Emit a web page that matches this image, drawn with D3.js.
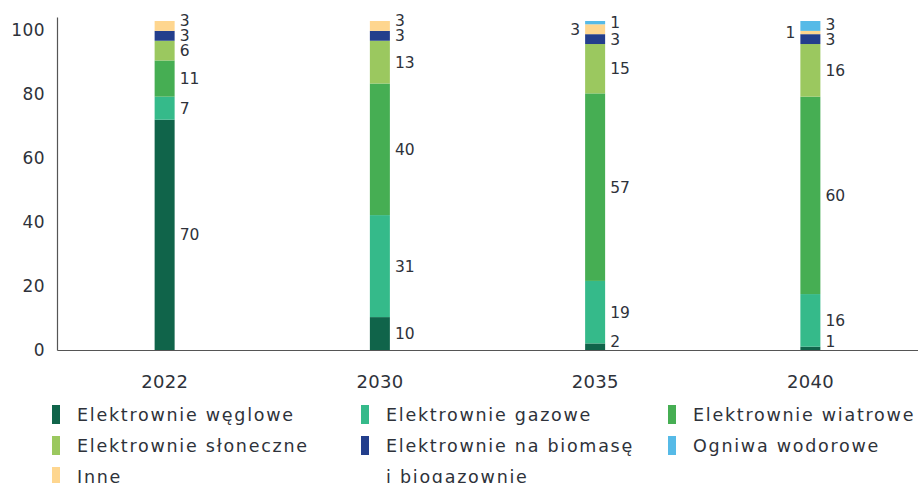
<!DOCTYPE html>
<html>
<head>
<meta charset="utf-8">
<script src="https://cdn.jsdelivr.net/npm/d3@7"></script>
<style>
  body { margin: 0; background: #fff; }
  svg text { font-family: 'DejaVu Sans', sans-serif; fill: #2e323a; }
</style>
</head>
<body>
<div id="vis"></div>
<script>
// data
var years = ['2022', '2030', '2035', '2040'];
var seriesKeys = ['coal', 'gas', 'wind', 'solar', 'biomass', 'other', 'hydrogen'];
var coal     = [70, 10, 2, 1];
var gas      = [7, 31, 19, 16];
var wind     = [11, 40, 57, 60];
var solar    = [6, 13, 15, 16];
var biomass  = [3, 3, 3, 3];
var other    = [3, 3, 3, 1];
var hydrogen = [0, 0, 1, 3];
var seriesNames = {
  coal: 'Elektrownie węglowe',
  gas: 'Elektrownie gazowe',
  wind: 'Elektrownie wiatrowe',
  solar: 'Elektrownie słoneczne',
  biomass: 'Elektrownie na biomasę\ni biogazownie',
  hydrogen: 'Ogniwa wodorowe',
  other: 'Inne'
};
var legendOrder = ['coal', 'gas', 'wind', 'solar', 'biomass', 'hydrogen', 'other'];
var yTicks = [0, 20, 40, 60, 80, 100];

var colors = {
  coal: '#10644a',
  gas: '#35ba8a',
  wind: '#46ae53',
  solar: '#9bc85f',
  biomass: '#233e8c',
  other: '#fed68f',
  hydrogen: '#56bae7'
};

var width = 918, height = 483;
var values = { coal: coal, gas: gas, wind: wind, solar: solar, biomass: biomass, other: other, hydrogen: hydrogen };

var rows = years.map(function (y, i) {
  var r = { year: y };
  seriesKeys.forEach(function (k) { r[k] = values[k][i]; });
  return r;
});

var svg = d3.select('#vis').append('svg')
  .attr('width', width)
  .attr('height', height);

var x = d3.scaleBand().domain(years).range([57, 918]);
var y = d3.scaleLinear().domain([0, 100]).range([350, 21]);
// tick labels in the original sit on a slightly tighter grid than the bars
var yAxisScale = d3.scaleLinear().domain([0, 104]).range([350, 17]);
var barW = 20;

var stack = d3.stack().keys(seriesKeys);
var layers = stack(rows);

svg.append('g')
  .selectAll('g')
  .data(layers)
  .join('g')
  .attr('fill', function (d) { return colors[d.key]; })
  .selectAll('rect')
  .data(function (d) { return d; })
  .join('rect')
  .attr('x', function (d) { return x(d.data.year) + x.bandwidth() / 2 - barW / 2; })
  .attr('y', function (d) { return y(d[1]); })
  .attr('width', barW)
  .attr('height', function (d) { return y(d[0]) - y(d[1]); });

// axes
var yAxis = svg.append('g')
  .attr('transform', 'translate(57,0)')
  .call(d3.axisLeft(yAxisScale).tickValues(yTicks).tickSize(0).tickPadding(12));
yAxis.select('.domain').attr('stroke', '#555').attr('stroke-width', 1.2);
yAxis.selectAll('text').style('font-size', '17px').style('letter-spacing', '0.4px');

var xAxis = svg.append('g')
  .attr('transform', 'translate(0,350)')
  .call(d3.axisBottom(x).tickSize(0).tickPadding(25));
xAxis.select('.domain').attr('stroke', '#555').attr('stroke-width', 1.2);
xAxis.selectAll('text').style('font-size', '18px').style('letter-spacing', '0.3px');

// value labels, nudged so that thin segments do not collide
var labelGap = 15;
years.forEach(function (yr, i) {
  var cx = x(yr) + x.bandwidth() / 2;
  var right = [], left = [];
  layers.forEach(function (layer) {
    var d = layer[i];
    var v = d[1] - d[0];
    if (v <= 0) return;
    var item = { v: v, y: (y(d[0]) + y(d[1])) / 2 };
    if (layer.key === 'other' && hydrogen[i] > 0) left.push(item);
    else right.push(item);
  });
  var prev = null;
  right.forEach(function (it) {
    it.y = Math.min(it.y, 341);
    if (prev !== null) it.y = Math.min(it.y, prev - labelGap);
    prev = it.y;
  });
  svg.selectAll(null)
    .data(right)
    .enter().append('text')
    .attr('x', cx + barW / 2 + 5)
    .attr('y', function (d) { return d.y; })
    .attr('dy', '0.36em')
    .style('font-size', '15.5px')
    .text(function (d) { return d.v; });
  svg.selectAll(null)
    .data(left)
    .enter().append('text')
    .attr('x', cx - barW / 2 - 5)
    .attr('y', function (d) { return d.y; })
    .attr('dy', '0.36em')
    .attr('text-anchor', 'end')
    .style('font-size', '15.5px')
    .text(function (d) { return d.v; });
});

// legend
var colX = [52, 361, 668];
var legend = svg.append('g');
legendOrder.forEach(function (k, i) {
  var col = i % 3, row = Math.floor(i / 3);
  var ly = 415 + row * 31;
  var g = legend.append('g').attr('transform', 'translate(' + colX[col] + ',' + ly + ')');
  g.append('rect')
    .attr('x', 0).attr('y', -10)
    .attr('width', 8).attr('height', 19)
    .attr('fill', colors[k]);
  var t = g.append('text')
    .attr('x', 25)
    .attr('y', 0)
    .style('font-size', '17.5px')
    .style('letter-spacing', '1.75px');
  seriesNames[k].split('\n').forEach(function (line, j) {
    t.append('tspan')
      .attr('x', 25)
      .attr('dy', j === 0 ? '0.36em' : '31px')
      .text(line);
  });
});
</script>
</body>
</html>
